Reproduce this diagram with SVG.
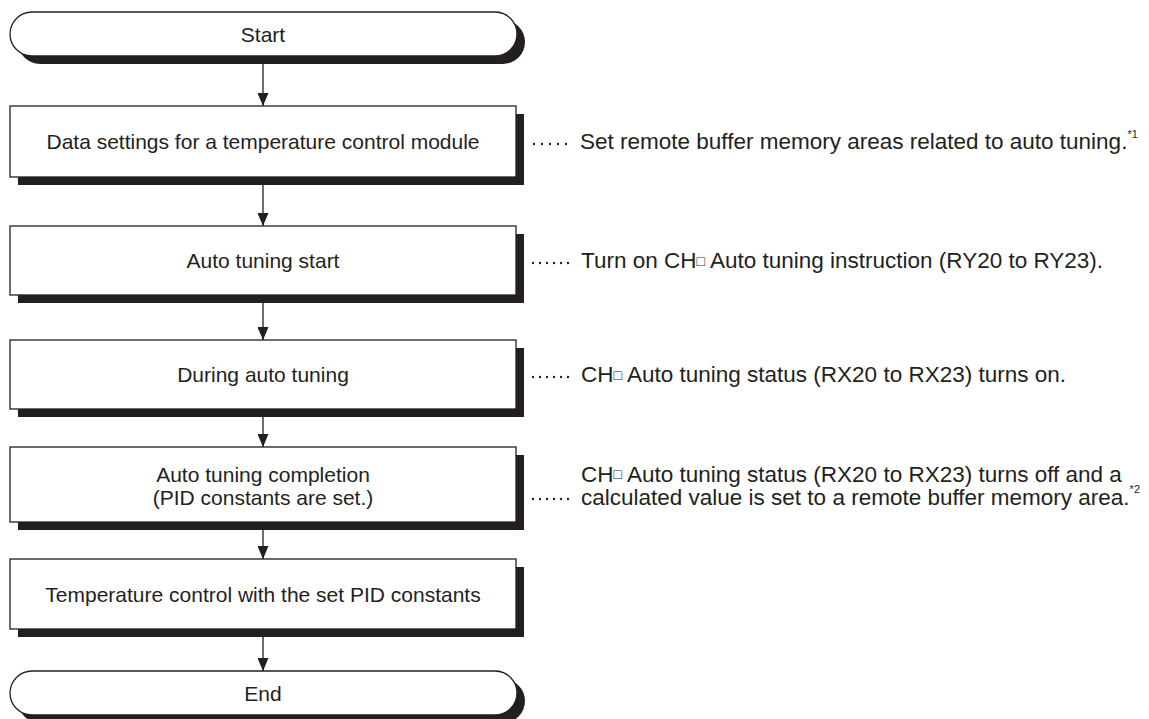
<svg xmlns="http://www.w3.org/2000/svg" width="1149" height="719" viewBox="0 0 1149 719">
<style>
.shadow{fill:#231f20;stroke:none}
.shape{fill:#fff;stroke:#231f20;stroke-width:1.3}
.lbl{font-family:"Liberation Sans",Arial,sans-serif;font-size:21px;fill:#231f20;text-anchor:middle;dominant-baseline:central}
.note{font-family:"Liberation Sans",Arial,sans-serif;font-size:22.5px;fill:#231f20;dominant-baseline:central}
.sup{font-size:11px}
.sq{font-size:14px}
.conn{stroke:#231f20;stroke-width:1.3;fill:none}
.dot{fill:#231f20}
</style>
<defs>
<marker id="arr" markerWidth="13" markerHeight="11" refX="13" refY="5.5" orient="auto" markerUnits="userSpaceOnUse" viewBox="0 0 13 11">
<path d="M0,0 L13,5.5 L0,11 Z" fill="#231f20"/>
</marker>
</defs>
<rect width="1149" height="719" fill="#fff"/>

<g id="start">
<rect class="shadow" x="18" y="20" width="507" height="44" rx="22"/>
<rect class="shape" x="10" y="12" width="507" height="44" rx="22"/>
<text class="lbl" x="263" y="34">Start</text>
</g>

<g id="box1">
<rect class="shadow" x="18" y="114" width="506" height="71"/>
<rect class="shape" x="10" y="106" width="506" height="71"/>
<text class="lbl" x="263" y="141.5">Data settings for a temperature control module</text>
</g>

<g id="box2">
<rect class="shadow" x="18" y="234" width="506" height="69"/>
<rect class="shape" x="10" y="226" width="506" height="69"/>
<text class="lbl" x="263" y="260.5">Auto tuning start</text>
</g>

<g id="box3">
<rect class="shadow" x="18" y="348" width="506" height="69"/>
<rect class="shape" x="10" y="340" width="506" height="69"/>
<text class="lbl" x="263" y="374.5">During auto tuning</text>
</g>

<g id="box4">
<rect class="shadow" x="18" y="455" width="506" height="75"/>
<rect class="shape" x="10" y="447" width="506" height="75"/>
<text class="lbl" x="263" y="474">Auto tuning completion</text>
<text class="lbl" x="263" y="497">(PID constants are set.)</text>
</g>

<g id="box5">
<rect class="shadow" x="18" y="567" width="506" height="70"/>
<rect class="shape" x="10" y="559" width="506" height="70"/>
<text class="lbl" x="263" y="594">Temperature control with the set PID constants</text>
</g>

<g id="end">
<rect class="shadow" x="18" y="679" width="507" height="44" rx="22"/>
<rect class="shape" x="10" y="671" width="507" height="44" rx="22"/>
<text class="lbl" x="263" y="693">End</text>
</g>

<g id="connectors">
<line class="conn" x1="263" y1="64" x2="263" y2="106" marker-end="url(#arr)"/>
<line class="conn" x1="263" y1="185" x2="263" y2="226" marker-end="url(#arr)"/>
<line class="conn" x1="263" y1="303" x2="263" y2="340" marker-end="url(#arr)"/>
<line class="conn" x1="263" y1="417" x2="263" y2="447" marker-end="url(#arr)"/>
<line class="conn" x1="263" y1="530" x2="263" y2="559" marker-end="url(#arr)"/>
<line class="conn" x1="263" y1="637" x2="263" y2="671" marker-end="url(#arr)"/>
</g>

<g id="notes">
<g class="dot">
<circle cx="534" cy="144" r="1.2"/><circle cx="542" cy="144" r="1.2"/><circle cx="550" cy="144" r="1.2"/><circle cx="558" cy="144" r="1.2"/><circle cx="566" cy="144" r="1.2"/>
<circle cx="533" cy="263" r="1.2"/><circle cx="540" cy="263" r="1.2"/><circle cx="547" cy="263" r="1.2"/><circle cx="554" cy="263" r="1.2"/><circle cx="561" cy="263" r="1.2"/><circle cx="568" cy="263" r="1.2"/>
<circle cx="533" cy="377" r="1.2"/><circle cx="540" cy="377" r="1.2"/><circle cx="547" cy="377" r="1.2"/><circle cx="554" cy="377" r="1.2"/><circle cx="561" cy="377" r="1.2"/><circle cx="568" cy="377" r="1.2"/>
<circle cx="533" cy="499" r="1.2"/><circle cx="540" cy="499" r="1.2"/><circle cx="547" cy="499" r="1.2"/><circle cx="554" cy="499" r="1.2"/><circle cx="561" cy="499" r="1.2"/><circle cx="568" cy="499" r="1.2"/>
</g>
<text class="note" x="580" y="141.5">Set remote buffer memory areas related to auto tuning.<tspan class="sup" dy="-8">*1</tspan></text>
<text class="note" x="581" y="260.5">Turn on CH<tspan class="sq">□</tspan> Auto tuning instruction (RY20 to RY23).</text>
<text class="note" x="581" y="374.5">CH<tspan class="sq">□</tspan> Auto tuning status (RX20 to RX23) turns on.</text>
<text class="note" x="581" y="474">CH<tspan class="sq">□</tspan> Auto tuning status (RX20 to RX23) turns off and a</text>
<text class="note" x="581" y="497">calculated value is set to a remote buffer memory area.<tspan class="sup" dy="-8">*2</tspan></text>
</g>
</svg>
